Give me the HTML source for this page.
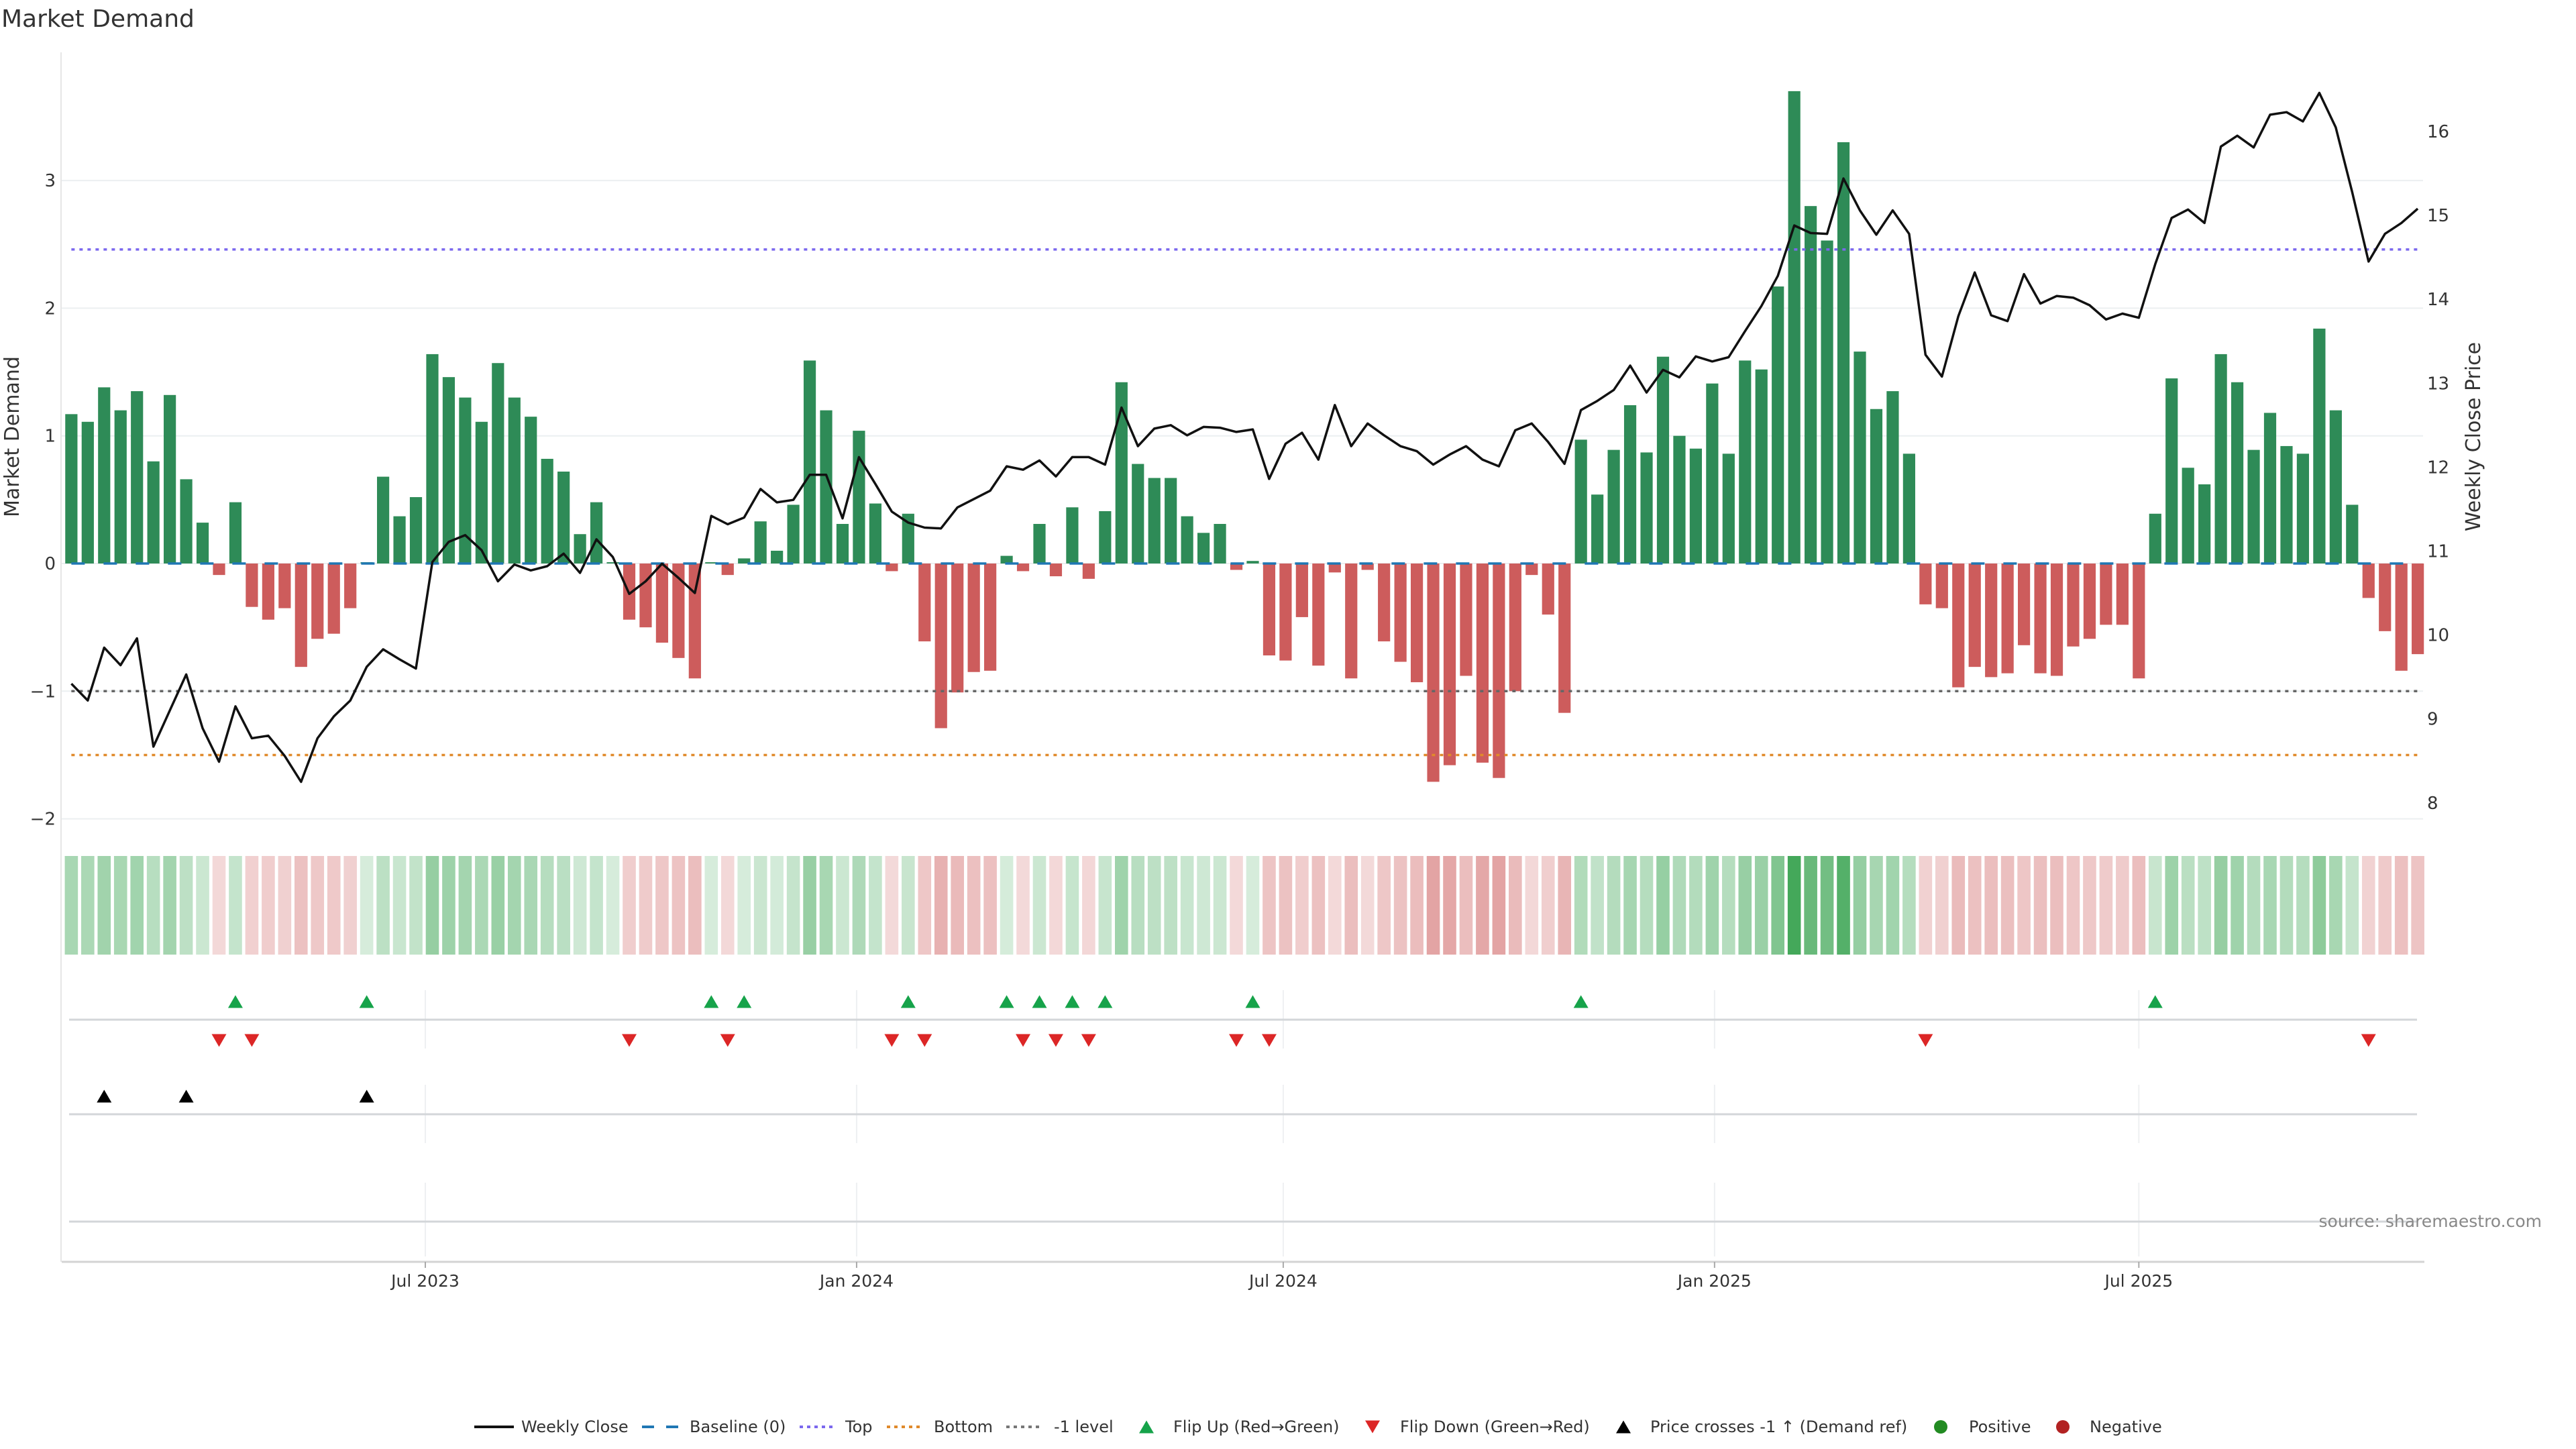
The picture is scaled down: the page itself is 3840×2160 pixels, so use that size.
<!DOCTYPE html>
<html><head><meta charset="utf-8"><title>Market Demand</title>
<style>
html,body{margin:0;padding:0;background:#fff;}
svg{display:block;font-family:"DejaVu Sans","Liberation Sans",sans-serif;}
</style></head>
<body>
<svg id="chart" width="3840" height="2160" viewBox="0 0 3840 2160" xmlns="http://www.w3.org/2000/svg">
<rect x="0" y="0" width="3840" height="2160" fill="#ffffff"/>
<text x="2" y="40" font-size="36" fill="#333">Market Demand</text>
<text transform="translate(28,651) rotate(-90)" text-anchor="middle" font-size="30" fill="#333">Market Demand</text>
<text transform="translate(3697,651) rotate(-90)" text-anchor="middle" font-size="30" fill="#333">Weekly Close Price</text>
<g id="grid"></g>
<g id="panels"></g>
<g id="strip"></g>
<g id="bars"></g>
<g id="refs"></g>
<g id="price"></g>
<g id="markers"></g>
<g id="axes"></g>
<text x="3789" y="1829" text-anchor="end" font-size="25" fill="#888">source: sharemaestro.com</text>
<g id="legend"></g>
</svg>
<script>
const demand = [1.17,1.11,1.38,1.20,1.35,0.80,1.32,0.66,0.32,-0.09,0.48,-0.34,-0.44,-0.35,-0.81,-0.59,-0.55,-0.35,0.01,0.68,
0.37,0.52,1.64,1.46,1.30,1.11,1.57,1.30,1.15,0.82,0.72,0.23,0.48,0.01,-0.44,-0.50,-0.62,-0.74,-0.90,0.01,
-0.09,0.04,0.33,0.10,0.46,1.59,1.20,0.31,1.04,0.47,-0.06,0.39,-0.61,-1.29,-1.01,-0.85,-0.84,0.06,-0.06,0.31,
-0.10,0.44,-0.12,0.41,1.42,0.78,0.67,0.67,0.37,0.24,0.31,-0.05,0.02,-0.72,-0.76,-0.42,-0.80,-0.07,-0.90,-0.05,
-0.61,-0.77,-0.93,-1.71,-1.58,-0.88,-1.56,-1.68,-1.00,-0.09,-0.40,-1.17,0.97,0.54,0.89,1.24,0.87,1.62,1.00,0.90,
1.41,0.86,1.59,1.52,2.17,3.70,2.80,2.53,3.30,1.66,1.21,1.35,0.86,-0.32,-0.35,-0.97,-0.81,-0.89,-0.86,-0.64,
-0.86,-0.88,-0.65,-0.59,-0.48,-0.48,-0.90,0.39,1.45,0.75,0.62,1.64,1.42,0.89,1.18,0.92,0.86,1.84,1.20,0.46,
-0.27,-0.53,-0.84,-0.71];
const price = [9.42,9.22,9.85,9.64,9.96,8.67,9.10,9.53,8.89,8.49,9.15,8.77,8.80,8.56,8.25,8.77,9.03,9.22,9.62,9.83,
9.71,9.60,10.87,11.11,11.19,11.01,10.64,10.84,10.77,10.82,10.97,10.74,11.14,10.93,10.49,10.64,10.85,10.68,10.50,11.42,
11.32,11.40,11.74,11.58,11.61,11.91,11.91,11.39,12.12,11.80,11.47,11.34,11.28,11.27,11.52,11.62,11.72,12.01,11.97,12.08,
11.89,12.12,12.12,12.03,12.71,12.25,12.46,12.50,12.38,12.48,12.47,12.42,12.45,11.86,12.28,12.41,12.09,12.74,12.25,12.52,
12.38,12.25,12.19,12.03,12.15,12.25,12.09,12.01,12.44,12.52,12.30,12.04,12.68,12.79,12.92,13.21,12.89,13.16,13.07,13.32,
13.26,13.31,13.62,13.92,14.28,14.88,14.79,14.78,15.44,15.06,14.77,15.06,14.78,13.34,13.08,13.80,14.32,13.81,13.74,14.30,
13.95,14.04,14.02,13.93,13.76,13.83,13.78,14.42,14.97,15.07,14.91,15.82,15.95,15.81,16.20,16.23,16.12,16.46,16.05,15.28,
14.45,14.78,14.91,15.08];
const leftTicks = [-2,-1,0,1,2,3];
const leftTickLabels = ["\u22122","\u22121","0","1","2","3"];
const rightTicks = [8,9,10,11,12,13,14,15,16];
const monthTicks = ["2023-07-01","2024-01-01","2024-07-01","2025-01-01","2025-07-01"];
const monthLabels = ["Jul 2023","Jan 2024","Jul 2024","Jan 2025","Jul 2025"];
const topLevel = 2.46;
const bottomLevel = -1.50;
const minusOneLevel = -1;
const startDate = "2023-01-31";

const NS = "http://www.w3.org/2000/svg";
const DAY = 86400000;
const t0 = Date.parse(startDate);
const tRef = Date.parse("2023-07-01");
const STEP = 24.46;
function xDate(t){ return 634 + (t - tRef) / (7*DAY) * STEP; }
function xIdx(i){ return xDate(t0 + i*7*DAY); }
function yD(v){ return 840 - v*190.3; }
function yP(p){ return 196 + (16 - p)*125.1; }
function mk(tag, attrs, parent){ const e=document.createElementNS(NS,tag); for(const k in attrs) e.setAttribute(k, attrs[k]); parent.appendChild(e); return e; }
const G = id => document.getElementById(id);
const xFirst = xIdx(0), xLast = xIdx(demand.length-1);

const grid = G('grid');
leftTicks.forEach((v,k) => {
  const l = mk('line',{x1:91,x2:3612,y1:yD(v),y2:yD(v),stroke:'#eceff1','stroke-width':2},grid);
  
  
});
const la = mk('line',{x1:91,x2:91,y1:78,y2:1881,stroke:'#e6e6e6','stroke-width':2},grid);



const panels = G('panels');
[[1476,1563],[1617,1704],[1763,1873]].forEach(r => {
  monthTicks.forEach(m => {
    const x = xDate(Date.parse(m));
    const l = mk('line',{x1:x,x2:x,y1:r[0],y2:r[1],stroke:'#eef0f2','stroke-width':2},panels);
    
    
  });
});
[1520,1661,1821].forEach(y => {
  const l = mk('line',{x1:103,x2:3603,y1:y,y2:y,stroke:'#d3d6d9','stroke-width':3},panels);
  
  
});

const strip = G('strip');
demand.forEach((v,i) => {
  const a = v > 0 ? Math.min(0.2 + 0.2*v, 1) : Math.min(0.22 + 0.2*Math.abs(v), 1);
  const c = v > 0 ? 'rgba(56,163,80,'+a.toFixed(3)+')' : 'rgba(205,92,92,'+a.toFixed(3)+')';
  const r = mk('rect',{x:xIdx(i)-9.8,y:1276,width:19.6,height:147,fill:c},strip);
  
  
});

const bars = G('bars');
demand.forEach((v,i) => {
  const y0 = yD(0), y1 = yD(v);
  const r = mk('rect',{x:xIdx(i)-9.1,y:Math.min(y0,y1),width:18.2,height:Math.max(Math.abs(y1-y0),0.5),fill:v>=0?'#2e8b57':'#cd5c5c'},bars);
  
  
});

const refs = G('refs');
function refLine(v,color,dash,name){
  const l = mk('line',{x1:xFirst,x2:xLast,y1:yD(v),y2:yD(v),stroke:color,'stroke-width':3.5,'stroke-dasharray':dash},refs);
  
  
}
refLine(0,'#1f77b4','20 28','baseline-zero');
refLine(topLevel,'#7b68ee','5 7','top-line');
refLine(minusOneLevel,'#666666','5 7','minus-one-line');
refLine(bottomLevel,'#e08a2b','5 7','bottom-line');

const pr = G('price');
const pl = mk('polyline',{points:price.map((p,i)=>xIdx(i).toFixed(1)+','+yP(p).toFixed(1)).join(' '),fill:'none',stroke:'#111','stroke-width':3.5,'stroke-linejoin':'round'},pr);



const mg = G('markers');
function tri(x,y,up,color,name){
  const w=11,h=19;
  const pts = up ? [[x-w,y+h/2],[x+w,y+h/2],[x,y-h/2]] : [[x-w,y-h/2],[x+w,y-h/2],[x,y+h/2]];
  const p = mk('polygon',{points:pts.map(q=>q.join(',')).join(' '),fill:color},mg);
  
  
}
const refPrice = 16 - (yD(-1) - 196)/125.1;
for(let i=1;i<demand.length;i++){
  if(demand[i-1] <= 0 && demand[i] > 0) tri(xIdx(i),1493,true,'#16a34a','flip-up-marker');
  if(demand[i-1] > 0 && demand[i] <= 0) tri(xIdx(i),1551,false,'#dc2626','flip-down-marker');
  if(price[i-1] < refPrice && price[i] >= refPrice) tri(xIdx(i),1634,true,'#000','price-cross-marker');
}

const ax = G('axes');
const xl = mk('line',{x1:92,x2:3614,y1:1881,y2:1881,stroke:'#d3d3d3','stroke-width':3},ax);


monthTicks.forEach((m,k) => {
  const x = xDate(Date.parse(m));
  const t = mk('line',{x1:x,x2:x,y1:1881,y2:1890,stroke:'#aaa','stroke-width':2},ax);
  
  
  const tx = mk('text',{x:x,y:1918,'text-anchor':'middle','font-size':25,fill:'#333'},ax);
  tx.textContent = monthLabels[k];
  
  
});
leftTicks.forEach((v,k) => {
  const tx = mk('text',{x:83,y:yD(v)+9,'text-anchor':'end','font-size':26,fill:'#333'},ax);
  tx.textContent = leftTickLabels[k];
  
  
});
rightTicks.forEach(v => {
  const tx = mk('text',{x:3618,y:yP(v)+9,'font-size':26,fill:'#333'},ax);
  tx.textContent = String(v);
  
  
});

const lg = G('legend');
const LY = 2127;
function ltext(x,s,name){
  const t = mk('text',{x:x,y:LY+8,'font-size':24,fill:'#333'},lg);
  t.textContent = s;
  
  
}
function lline(x1,x2,color,dash,w,name){
  const l = mk('line',{x1:x1,x2:x2,y1:LY,y2:LY,stroke:color,'stroke-width':w,'stroke-dasharray':dash},lg);
  
  
}
lline(707,766,'#111','none',4,'legend-line-close'); ltext(777,'Weekly Close','legend-weekly-close');
lline(957,1011,'#1f77b4','18 18',4,'legend-line-baseline'); ltext(1028,'Baseline (0)','legend-baseline');
lline(1192,1243,'#7b68ee','5 6',4,'legend-line-top'); ltext(1260,'Top','legend-top');
lline(1322,1376,'#e08a2b','5 6',4,'legend-line-bottom'); ltext(1392,'Bottom','legend-bottom');
lline(1500,1554,'#777','5 6',4,'legend-line-minus-one'); ltext(1571,'-1 level','legend-minus-one');
tri(1709,LY,true,'#16a34a','legend-flip-up-icon'); ltext(1749,'Flip Up (Red\u2192Green)','legend-flip-up');
tri(2046,LY,false,'#dc2626','legend-flip-down-icon'); ltext(2087,'Flip Down (Green\u2192Red)','legend-flip-down');
tri(2420,LY,true,'#000','legend-price-cross-icon'); ltext(2460,'Price crosses -1 \u2191 (Demand ref)','legend-price-cross');
const c1 = mk('circle',{cx:2893,cy:LY,r:10,fill:'#228b22'},lg);


ltext(2935,'Positive','legend-positive');
const c2 = mk('circle',{cx:3075,cy:LY,r:10,fill:'#b22222'},lg);


ltext(3115,'Negative','legend-negative');
</script>
</body></html>
